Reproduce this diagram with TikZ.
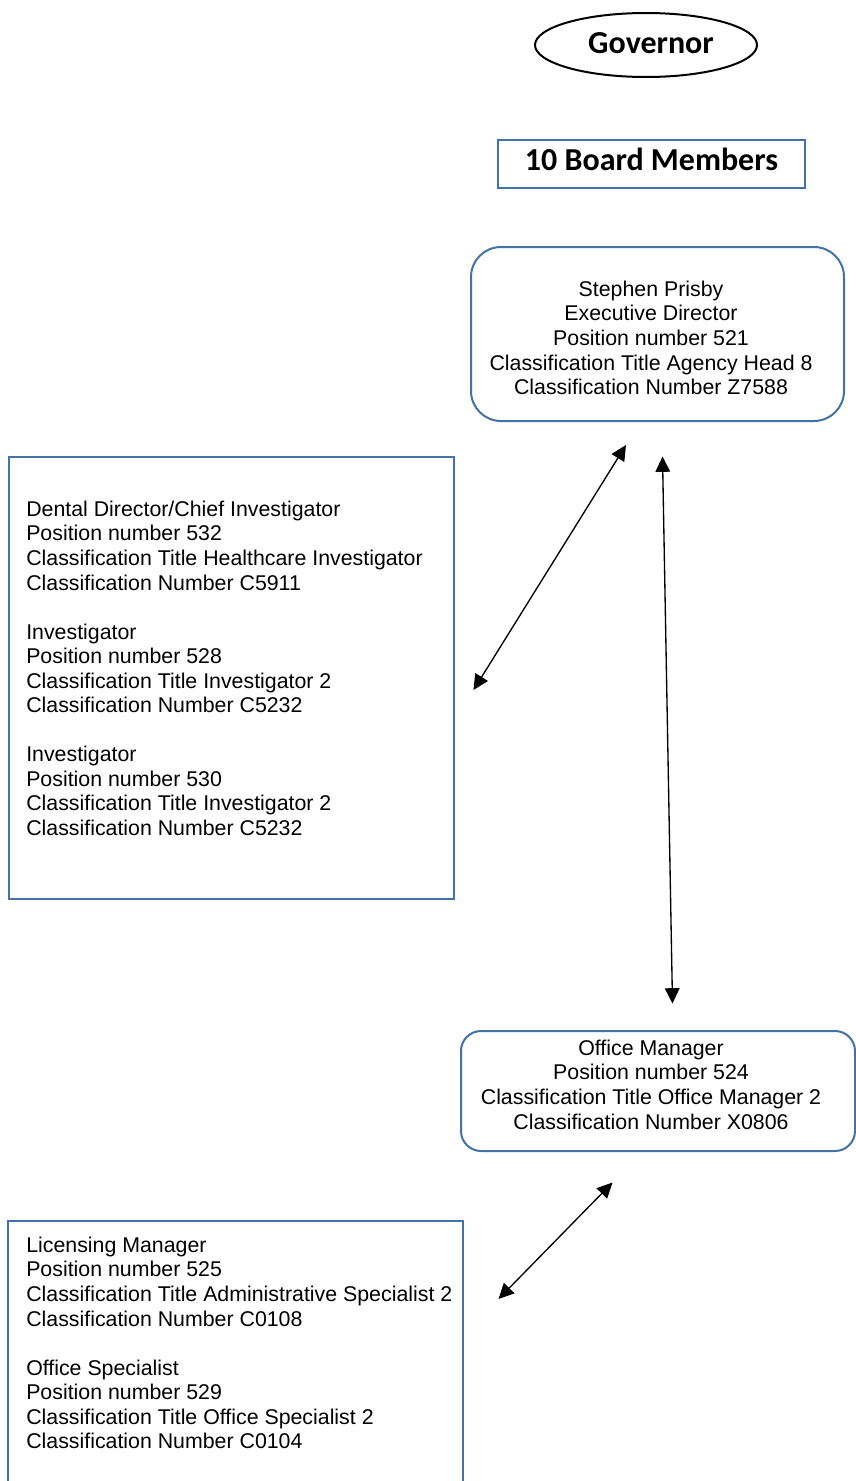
\documentclass[tikz,border=0pt]{standalone}
\usepackage{fontspec}
\setmainfont{Liberation Sans}
\newfontfamily\calfont{Carlito}
\usetikzlibrary{arrows.meta,shapes.geometric}
\definecolor{boxblue}{RGB}{66,114,168}
\begin{document}
\begin{tikzpicture}[x=0.75pt,y=-0.75pt,
  bluebox/.style={draw=boxblue,line width=1.5pt,inner sep=0pt,rectangle},
  bodytext/.style={font=\fontsize{16}{18.4}\selectfont,inner sep=0pt},
  headtext/.style={font=\fontsize{24}{28}\selectfont\calfont\bfseries},
  tipshape/.tip={Triangle[length=11.5pt,width=11pt]},
  link/.style={line width=1pt,tipshape-tipshape}]
\useasboundingbox (0,0) rectangle (856,1481);
\clip (0,0) rectangle (856,1481);

% Governor
\node[ellipse,draw=black,line width=1.5pt,minimum width=166.5pt,minimum height=48pt,
      inner sep=0pt,headtext,text depth=3pt] (gov) at (646,45) {\hspace*{7.5pt}Governor};

% Board
\node[bluebox,minimum width=230.25pt,minimum height=36pt,headtext,text depth=7pt] (board) at (651.5,164) {10 Board Members};

% Executive director
\node[bluebox,rounded corners=22.5pt,minimum width=279.75pt,minimum height=130.5pt] (exec) at (657.5,334) {};
\node[bodytext,anchor=north,align=center] (exectext) at (651,279)
  {\strut Stephen Prisby\\ Executive Director\\ Position number 521\\ Classification Title Agency Head 8\\ Classification Number Z7588};

% Investigators box
\node[bluebox,minimum width=333.75pt,minimum height=331.5pt] (inv) at (231.5,678) {};
\node[bodytext,anchor=north west,align=left] (invtext) at (26,499)
  {\strut Dental Director/Chief Investigator\\ Position number 532\\ Classification Title Healthcare Investigator\\ Classification Number C5911\\[\baselineskip]
   Investigator\\ Position number 528\\ Classification Title Investigator 2\\ Classification Number C5232\\[\baselineskip]
   Investigator\\ Position number 530\\ Classification Title Investigator 2\\ Classification Number C5232};

% Office manager
\node[bluebox,rounded corners=15pt,minimum width=295.5pt,minimum height=90pt] (office) at (658,1091) {};
\node[bodytext,anchor=north,align=center] (officetext) at (651,1038)
  {\strut Office Manager\\ Position number 524\\ Classification Title Office Manager 2\\ Classification Number X0806};

% Licensing box (runs past the bottom edge)
\node[bluebox,minimum width=341.25pt,minimum height=254.25pt] (lic) at (235.5,1390.5) {};
\node[bodytext,anchor=north west,align=left] (lictext) at (26,1235)
  {\strut Licensing Manager\\ Position number 525\\ Classification Title Administrative Specialist 2\\ Classification Number C0108\\[\baselineskip]
   Office Specialist\\ Position number 529\\ Classification Title Office Specialist 2\\ Classification Number C0104};

% Connectors
\coordinate (a1s) at (626,445);
\coordinate (a1e) at (473.5,690);
\coordinate (a2s) at (662.5,456.5);
\coordinate (a2e) at (672.5,1003.5);
\coordinate (a3s) at (612.5,1182.5);
\coordinate (a3e) at (498.5,1299);
\draw[link] (a1s) -- (a1e);
\draw[link] (a2s) -- (a2e);
\draw[link] (a3s) -- (a3e);
\end{tikzpicture}
\end{document}
